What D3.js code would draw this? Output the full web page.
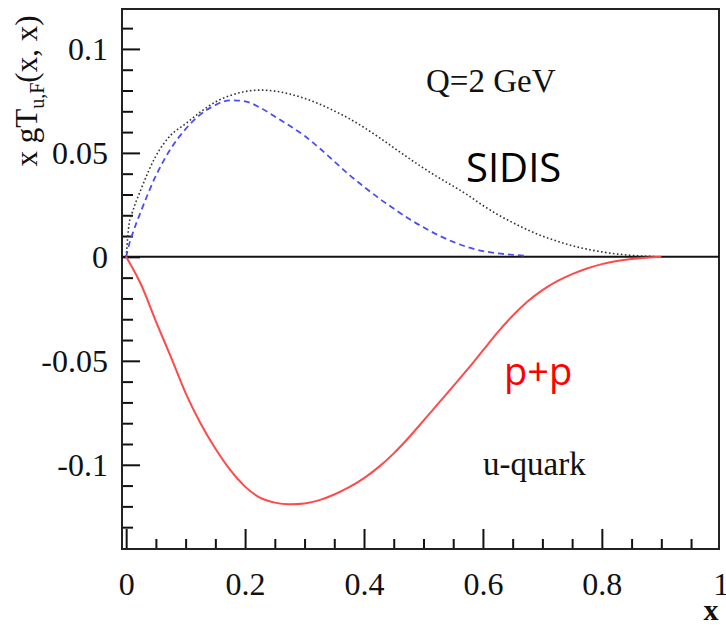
<!DOCTYPE html>
<html>
<head>
<meta charset="utf-8">
<script src="https://cdn.jsdelivr.net/npm/d3@7"></script>
<style>
  body { margin: 0; background: #fff; }
  .tick text { font-family: "Liberation Serif", "Times New Roman", serif; fill: #111; }
</style>
</head>
<body>
<div id="chart"></div>
<script>
  "use strict";

  // x grid shared by the three curves
  var xs = [0, 0.005, 0.01, 0.025, 0.05, 0.075, 0.1, 0.125, 0.15, 0.175, 0.2, 0.225, 0.25, 0.275, 0.3,
            0.325, 0.35, 0.375, 0.4, 0.425, 0.45, 0.475, 0.5, 0.525, 0.55, 0.575, 0.6, 0.625, 0.65,
            0.675, 0.7, 0.725, 0.75, 0.775, 0.8, 0.825, 0.85, 0.875, 0.9];

  // SIDIS, black dotted
  var sidisTotal = [0, 0.016, 0.021, 0.0325, 0.0485, 0.0585, 0.064, 0.0697, 0.0745, 0.0776, 0.0795, 0.0802, 0.0797, 0.0783, 0.0762,
                    0.0735, 0.0702, 0.0665, 0.0622, 0.0575, 0.0525, 0.0475, 0.0427, 0.0382, 0.034, 0.0296, 0.0247, 0.0203, 0.0165,
                    0.013, 0.010, 0.0075, 0.0054, 0.0037, 0.0024, 0.0014, 0.0007, 0.0003, 0];

  // SIDIS, blue dashed (null = not drawn)
  var sidisBlue = [0, 0.006, 0.0105, 0.022, 0.039, 0.052, 0.0615, 0.0685, 0.073, 0.0753, 0.0748, 0.0718, 0.0675, 0.063, 0.0582,
                   0.0523, 0.0459, 0.0395, 0.0337, 0.0282, 0.0232, 0.0184, 0.0142, 0.0104, 0.0072, 0.0046, 0.0028, 0.0017, 0.001,
                   0.0005, null, null, null, null, null, null, null, null, null];

  // p+p, red solid
  var ppRed = [0, -0.0025, -0.005, -0.0133, -0.031, -0.048, -0.0655, -0.080, -0.0922, -0.1025, -0.1105, -0.1158, -0.1182, -0.119, -0.1186,
               -0.117, -0.1143, -0.1108, -0.1064, -0.101, -0.0945, -0.087, -0.0788, -0.0705, -0.0622, -0.0538, -0.045, -0.0362, -0.0283,
               -0.0215, -0.016, -0.0117, -0.0083, -0.0056, -0.0035, -0.002, -0.001, -0.0004, 0];

  var xMajor = [0, 0.2, 0.4, 0.6, 0.8, 1];
  var xMinor = [0.05, 0.1, 0.15, 0.25, 0.3, 0.35, 0.45, 0.5, 0.55, 0.65, 0.7, 0.75, 0.85, 0.9, 0.95];
  var yMajor = [-0.1, -0.05, 0, 0.05, 0.1];
  var yMinor = [-0.13, -0.12, -0.11, -0.09, -0.08, -0.07, -0.06, -0.04, -0.03, -0.02, -0.01,
                0.01, 0.02, 0.03, 0.04, 0.06, 0.07, 0.08, 0.09, 0.11];
  var yTickLabels = {"-0.1": "-0.1", "-0.05": "-0.05", "0": "0", "0.05": "0.05", "0.1": "0.1"};

  var width = 726, height = 626;
  var plotLeft = 122, plotRight = 719, plotTop = 9, plotBottom = 549;

  var svg = d3.select("#chart")
              .append("svg")
              .attr("width", width)
              .attr("height", height);

  var x = d3.scaleLinear()
            .domain([-0.007, 0.997])
            .range([plotLeft, plotRight]);

  var y = d3.scaleLinear()
            .domain([-0.1405, 0.1192])
            .range([plotBottom, plotTop]);

  // y axis: minor then major
  svg.append("g")
     .attr("transform", "translate(" + plotLeft + ",0)")
     .call(d3.axisLeft(y).tickValues(yMinor).tickSize(-11).tickFormat(""))
     .call(function(g){ g.select(".domain").remove(); })
     .selectAll("line").attr("stroke", "#111").attr("stroke-width", 2);

  svg.append("g")
     .attr("transform", "translate(" + plotLeft + ",0)")
     .call(d3.axisLeft(y).tickValues(yMajor).tickSizeInner(-18).tickSizeOuter(0).tickPadding(14)
             .tickFormat(function(d){ return yTickLabels[String(d)]; }))
     .call(function(g){ g.select(".domain").remove(); })
     .call(function(g){
        g.selectAll("line").attr("stroke", "#111").attr("stroke-width", 2);
        g.selectAll("text").attr("font-size", 32).attr("dy", "0.34em");
     });

  // x axis
  svg.append("g")
     .attr("transform", "translate(0," + plotBottom + ")")
     .call(d3.axisBottom(x).tickValues(xMinor).tickSize(-10).tickFormat(""))
     .call(function(g){ g.select(".domain").remove(); })
     .selectAll("line").attr("stroke", "#111").attr("stroke-width", 2);

  svg.append("g")
     .attr("transform", "translate(0," + plotBottom + ")")
     .call(d3.axisBottom(x).tickValues(xMajor).tickSizeInner(-20).tickSizeOuter(0).tickPadding(23)
             .tickFormat(d3.format("")))
     .call(function(g){ g.select(".domain").remove(); })
     .call(function(g){
        g.selectAll("line").attr("stroke", "#111").attr("stroke-width", 2);
        g.selectAll("line").filter(function(d){ return d > 0.99; }).remove();
        g.selectAll("text").attr("font-size", 32);
     });

  // frame
  svg.append("rect")
     .attr("x", plotLeft).attr("y", plotTop)
     .attr("width", plotRight - plotLeft).attr("height", plotBottom - plotTop)
     .attr("fill", "none").attr("stroke", "#222").attr("stroke-width", 2);

  // zero line
  svg.append("line")
     .attr("x1", plotLeft).attr("x2", plotRight)
     .attr("y1", y(0)).attr("y2", y(0))
     .attr("stroke", "#111").attr("stroke-width", 2);

  function lineFor(values) {
    return d3.line()
             .defined(function(d, i){ return values[i] !== null; })
             .x(function(d, i){ return x(xs[i]); })
             .y(function(d, i){ return y(values[i]); })
             .curve(d3.curveMonotoneX)(xs);
  }

  svg.append("path")
     .attr("d", lineFor(sidisTotal))
     .attr("fill", "none").attr("stroke", "#333")
     .attr("stroke-width", 1.6).attr("stroke-dasharray", "1.6,2.4");

  svg.append("path")
     .attr("d", lineFor(sidisBlue))
     .attr("fill", "none").attr("stroke", "#4a4ef0")
     .attr("stroke-width", 1.8).attr("stroke-dasharray", "6,4");

  svg.append("path")
     .attr("d", lineFor(ppRed))
     .attr("fill", "none").attr("stroke", "#ff4a4a")
     .attr("stroke-width", 2);

  // text annotations
  svg.append("text")
     .attr("x", 426).attr("y", 92)
     .attr("font-family", "Liberation Serif, serif").attr("font-size", 33)
     .attr("fill", "#111")
     .text("Q=2 GeV");

  svg.append("text")
     .attr("x", 466).attr("y", 182)
     .attr("font-family", "Open Sans, sans-serif").attr("font-size", 40)
     .attr("fill", "#000")
     .text("SIDIS");

  svg.append("text")
     .attr("x", 504).attr("y", 385)
     .attr("font-family", "Open Sans, sans-serif").attr("font-size", 38)
     .attr("fill", "#ff0000")
     .text("p+p");

  svg.append("text")
     .attr("x", 483).attr("y", 475)
     .attr("font-family", "Liberation Serif, serif").attr("font-size", 33)
     .attr("fill", "#111")
     .text("u-quark");

  // axis titles
  svg.append("text")
     .attr("x", 711).attr("y", 620)
     .attr("text-anchor", "middle")
     .attr("font-family", "Liberation Serif, serif").attr("font-size", 30).attr("font-weight", "bold")
     .attr("fill", "#111")
     .text("x");

  var ylab = svg.append("text")
     .attr("transform", "translate(37,91) rotate(-90)")
     .attr("text-anchor", "middle")
     .attr("font-family", "Liberation Serif, serif").attr("font-size", 31)
     .attr("fill", "#111");
  ylab.append("tspan").text("x gT");
  ylab.append("tspan").attr("font-size", 20).attr("dy", 7).text("u,F");
  ylab.append("tspan").attr("dy", -7).text("(x, x)");
</script>
</body>
</html>
